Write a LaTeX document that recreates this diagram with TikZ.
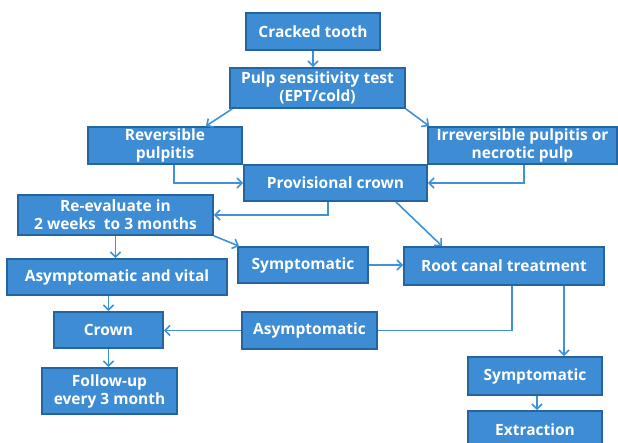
\documentclass[tikz,border=0pt]{standalone}
\usepackage{fontspec}
\setmainfont{Open Sans}
\usetikzlibrary{arrows.meta,calc}
\definecolor{boxfill}{RGB}{62,141,212}
\definecolor{boxline}{RGB}{38,100,160}
\definecolor{conn}{RGB}{62,146,216}
\tikzset{
  box/.style={draw=boxline, line width=1.8pt, fill=boxfill, text=white,
    font=\fontsize{15.5}{18}\selectfont\bfseries, align=center, inner sep=0pt},
  arr/.style={draw=conn, line width=1.6pt, -{Straight Barb[length=5pt,width=10pt,line width=1.6pt]}},
  ln/.style={draw=conn, line width=1.6pt}
}
\begin{document}
\begin{tikzpicture}[x=1pt,y=-1pt]
\useasboundingbox (0,0) rectangle (618,443);
\node[box, minimum width=134pt, minimum height=37pt] (crack) at (313,31.5) {Cracked tooth};
\node[box, minimum width=175pt, minimum height=40pt] (pulp) at (317.5,88) {Pulp sensitivity test\\(EPT/cold)};
\node[box, minimum width=154pt, minimum height=37pt] (rev) at (165,145.5) {Reversible\\pulpitis};
\node[box, minimum width=189pt, minimum height=37pt] (irr) at (522.5,145.5) {Irreversible pulpitis or\\necrotic pulp};
\node[box, minimum width=183pt, minimum height=36pt] (prov) at (335.5,183) {Provisional crown};
\node[box, minimum width=195pt, minimum height=40pt] (reeval) at (115.5,215) {Re-evaluate in\\2 weeks\ \ to 3 months};
\node[box, minimum width=130pt, minimum height=36pt] (sym1) at (303,265) {Symptomatic};
\node[box, minimum width=200pt, minimum height=38pt] (rct) at (504,266) {Root canal treatment};
\node[box, minimum width=220pt, minimum height=36pt] (asv) at (117,277) {Asymptomatic and vital};
\node[box, minimum width=109pt, minimum height=36pt] (crown) at (108.5,330) {Crown};
\node[box, minimum width=135pt, minimum height=37pt] (asym) at (309.5,330.5) {Asymptomatic};
\node[box, minimum width=135pt, minimum height=46pt] (follow) at (109.5,391) {Follow-up\\every 3 month};
\node[box, minimum width=134pt, minimum height=38pt] (sym2) at (535,376) {Symptomatic};
\node[box, minimum width=134pt, minimum height=38pt] (extr) at (535,430) {Extraction};

\draw[arr] (crack.south) -- (crack.south |- pulp.north);
\draw[arr] ([xshift=3pt]pulp.south west) -- ([xshift=-37pt]rev.north east);
\draw[arr] (pulp.south east) -- ([xshift=2pt]irr.north west);
\draw[arr] ([xshift=9pt]rev.south) |- (prov.west);
\draw[arr] ([xshift=1.5pt]irr.south) |- (prov.east);
\draw[arr] ([xshift=-7.5pt]prov.south) |- (reeval.east);
\draw[arr] ([xshift=-32pt]prov.south east) -- ([xshift=-62pt]rct.north);
\draw[arr] (reeval.south east) -- ([xshift=2pt]sym1.north west);
\draw[arr] (reeval.south) -- (reeval.south |- asv.north);
\draw[arr] (sym1.east) -- (sym1.east -| rct.west);
\draw[arr] (crown.north |- asv.south) -- (crown.north);
\draw[arr] (crown.south) -- (crown.south |- follow.north);
\draw[ln] ([xshift=8pt]rct.south) |- (asym.east);
\draw[arr] (asym.west) -- (asym.west -| crown.east);
\draw[arr] ([xshift=60pt]rct.south) -- ([xshift=60pt]rct.south |- sym2.north);
\draw[arr] ([xshift=2pt]sym2.south) -- ([xshift=2pt]sym2.south |- extr.north);
\end{tikzpicture}
\end{document}
